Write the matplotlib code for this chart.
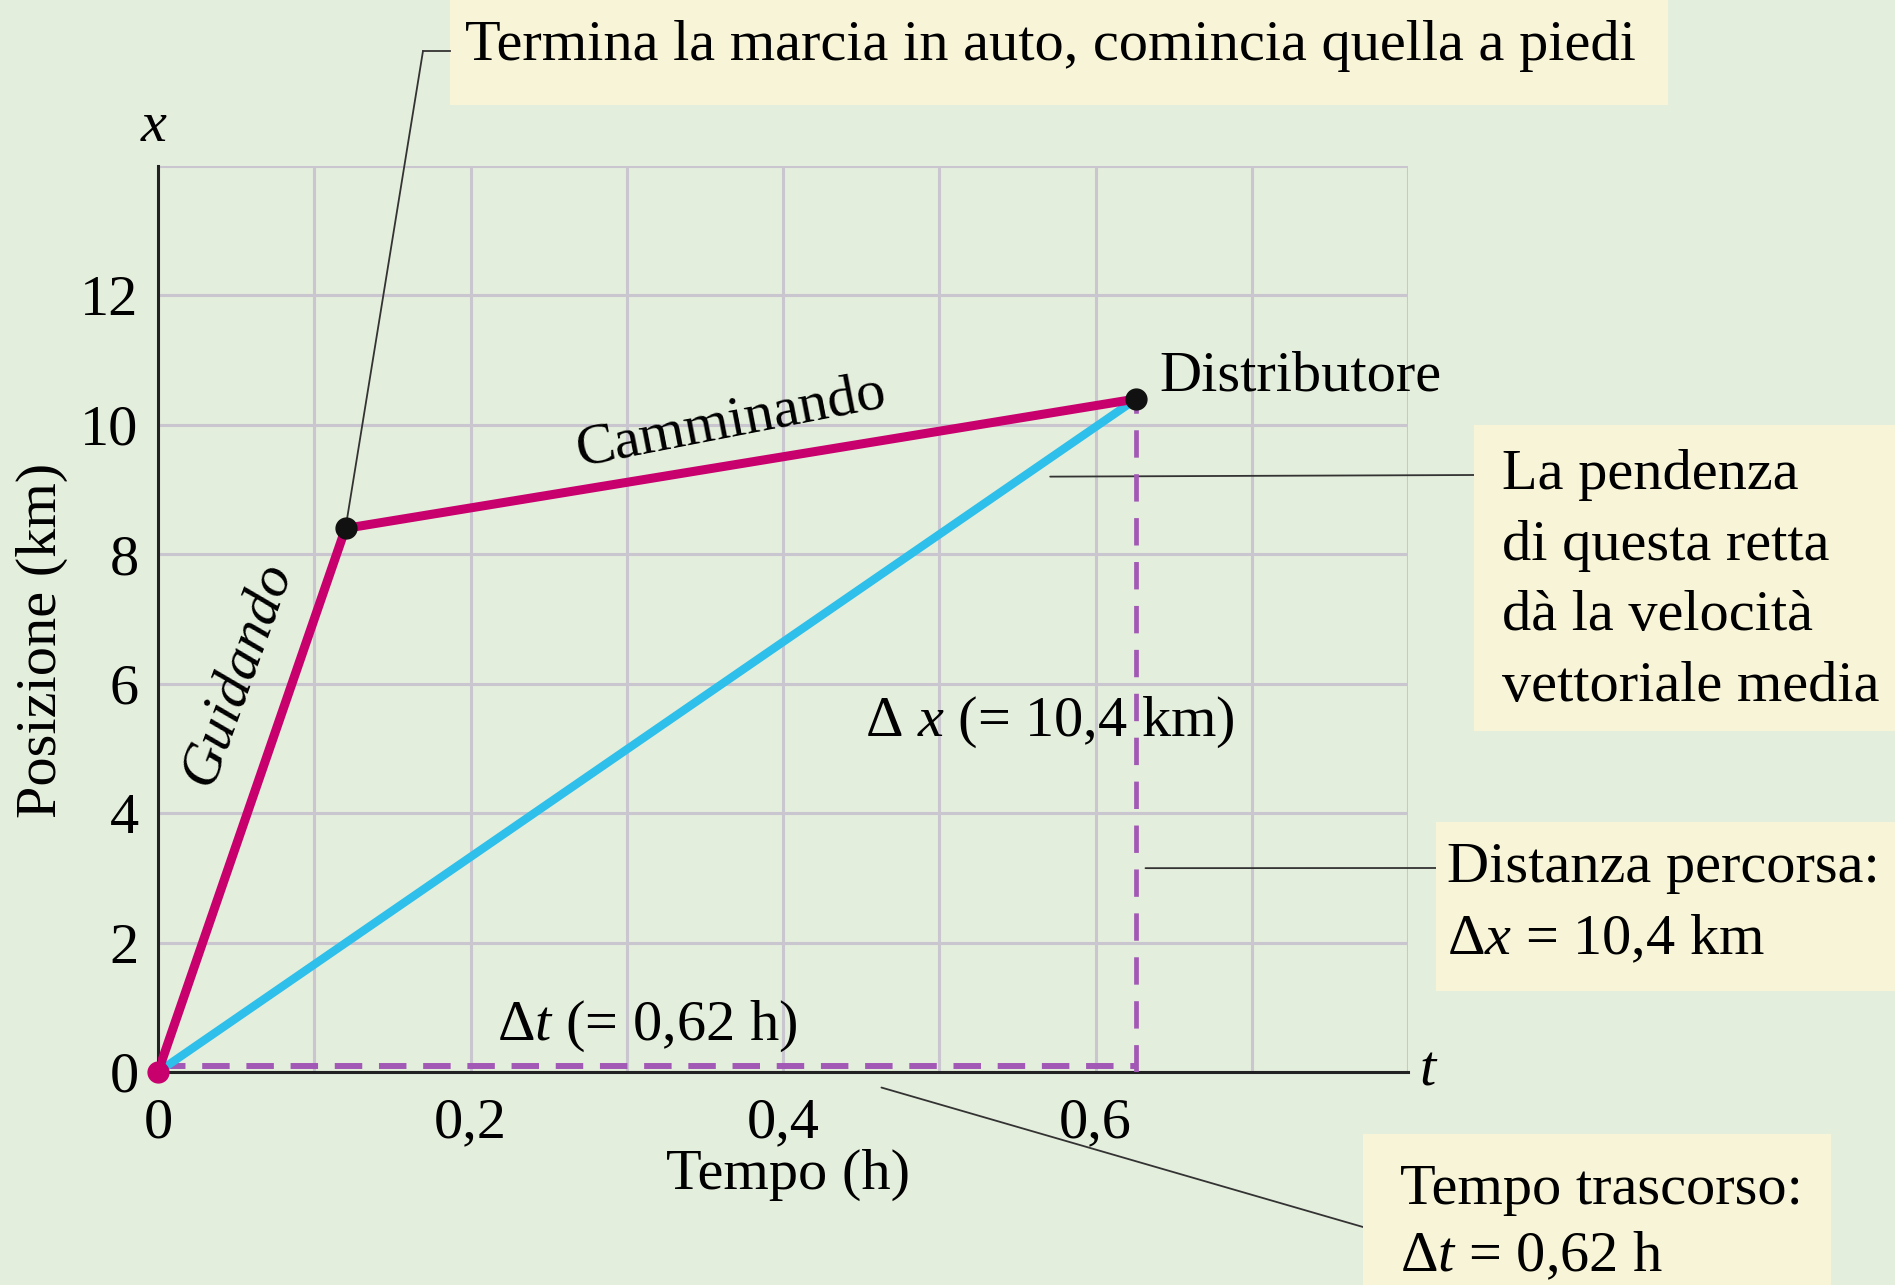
import matplotlib
matplotlib.use('Agg')
import matplotlib.pyplot as plt
from matplotlib.lines import Line2D

# data
trip_t = [0.0, 0.12, 0.626]       # h
trip_x = [0.0, 8.4, 10.4]         # km
avg_t = [0.0, 0.626]
avg_x = [0.0, 10.4]
dt_val = 0.626
dx_val = 10.4

xtick_pos = [0.0, 0.1, 0.2, 0.3, 0.4, 0.5, 0.6, 0.7, 0.8]
xtick_labels = ['0', '', '0,2', '', '0,4', '', '0,6', '', '']
ytick_pos = [0, 2, 4, 6, 8, 10, 12, 14]
ytick_labels = ['0', '2', '4', '6', '8', '10', '12', '']

BG = '#e4eedc'
BOX = '#f8f4d8'
MAGENTA = '#c8006e'
CYAN = '#2ebfea'
PURPLE = '#a259b5'
GRID = '#cac6d0'
FS = 42

plt.rcParams['font.family'] = ['Liberation Serif', 'DejaVu Serif']
plt.rcParams['mathtext.fontset'] = 'custom'
plt.rcParams['mathtext.rm'] = 'Liberation Serif'
plt.rcParams['mathtext.it'] = 'Liberation Serif:italic'

W, H = 1895, 1285
fig = plt.figure(figsize=(W / 100, H / 100), dpi=100, facecolor=BG)
ax = fig.add_axes([158 / W, 1 - 1072 / H, (1408 - 158) / W, (1072 - 166) / H])
ax.set_facecolor(BG)
ax.set_xlim(0, 0.8)
ax.set_ylim(0, 14)

ax.set_xticks(xtick_pos)
ax.set_xticklabels(xtick_labels, fontsize=FS)
ax.set_yticks(ytick_pos)
ax.set_yticklabels(ytick_labels, fontsize=FS)
ax.tick_params(length=0)
ax.tick_params(axis='x', pad=18)
ax.tick_params(axis='y', pad=14)
ax.grid(True, color=GRID, lw=2.2)
ax.set_axisbelow(True)
for s in ['top', 'right']:
    ax.spines[s].set_visible(False)
for s in ['left', 'bottom']:
    ax.spines[s].set_color('#222222')
    ax.spines[s].set_linewidth(2.2)
    ax.spines[s].set_zorder(3)

# dashed Δt and Δx
ax.plot([0, dt_val], [0.09, 0.09], color=PURPLE, lw=4.3, dashes=(4.6, 2.8), zorder=4, clip_on=False)
ax.plot([dt_val, dt_val], [0, dx_val], color=PURPLE, lw=3.4, dashes=(5.8, 3.5), zorder=4)

ax.plot(avg_t, avg_x, color=CYAN, lw=6, solid_capstyle='butt', zorder=5)
ax.plot(trip_t, trip_x, color=MAGENTA, lw=6.5, solid_joinstyle='round', zorder=6)
ax.plot(trip_t[1:], trip_x[1:], 'o', color='#111111', ms=15, zorder=7)
ax.plot(trip_t[:1], trip_x[:1], 'o', color=MAGENTA, ms=15, zorder=7, clip_on=False)

# axis names
ax.text(-0.003, 14.6, 'x', fontsize=FS, style='italic', ha='center', va='center')
ax.text(0.807, 0, 't', fontsize=FS, style='italic', ha='left', va='center')
fig.text(42 / W, 1 - 640 / H, 'Posizione (km)', fontsize=FS, rotation=90, ha='center', va='center')
fig.text(788 / W, 1 - 1175 / H, 'Tempo (h)', fontsize=FS, ha='center', va='center')

# labels on the lines
ax.text(0.0506, 6.17, 'Guidando', fontsize=FS, style='italic', rotation=70, ha='center', va='center')
ax.text(0.367, 10.05, 'Camminando', fontsize=FS, rotation=11, ha='center', va='center')
ax.text(0.641, 10.75, 'Distributore', fontsize=FS, ha='left', va='center')
ax.text(0.4525, 5.4, 'Δ $x$ (= 10,4 km)', fontsize=FS, ha='left', va='center')
ax.text(0.217, 0.7, 'Δ$t$ (= 0,62 h)', fontsize=FS, ha='left', va='center')

# callout boxes (figure pixels, y from top)
def callout_box(x0, y0, x1, y1):
    fig.patches.append(plt.Rectangle((x0 / W, 1 - y1 / H), (x1 - x0) / W, (y1 - y0) / H,
                                     transform=fig.transFigure, facecolor=BOX,
                                     edgecolor='none', zorder=0))

def fig_line(xs, ys):
    fig.lines.append(Line2D([x / W for x in xs], [1 - y / H for y in ys],
                            transform=fig.transFigure, color='#333333', lw=1.3))

def leader(xy, px, py):
    ax.annotate('', xy=xy, xycoords='data', xytext=(px, H - py), textcoords='figure pixels',
                arrowprops=dict(arrowstyle='-', color='#333333', lw=1.3, shrinkA=0, shrinkB=0),
                annotation_clip=False)

callout_box(450, 0, 1668, 105)
fig.text(465 / W, 1 - 46 / H, 'Termina la marcia in auto, comincia quella a piedi',
         fontsize=FS, ha='left', va='center')
leader((0.12, 8.4), 423, 51)
fig_line([423, 450], [51, 51])

callout_box(1474, 425, 1895, 731)
for i, line in enumerate(['La pendenza', 'di questa retta', 'dà la velocità', 'vettoriale media']):
    fig.text(1502 / W, 1 - (475 + i * 70.5) / H, line, fontsize=FS, ha='left', va='center')
leader((0.571, 9.2), 1474, 475)

callout_box(1436, 822, 1895, 991)
fig.text(1447 / W, 1 - 868 / H, 'Distanza percorsa:', fontsize=FS, ha='left', va='center')
fig.text(1447 / W, 1 - 940 / H, 'Δ$x$ = 10,4 km', fontsize=FS, ha='left', va='center')
leader((0.632, 3.15), 1436, 868)

callout_box(1363, 1134, 1831, 1285)
fig.text(1400 / W, 1 - 1190 / H, 'Tempo trascorso:', fontsize=FS, ha='left', va='center')
fig.text(1400 / W, 1 - 1257 / H, 'Δ$t$ = 0,62 h', fontsize=FS, ha='left', va='center')
leader((0.463, -0.24), 1363, 1227)

fig.savefig('out.png', dpi=100, facecolor=BG)
